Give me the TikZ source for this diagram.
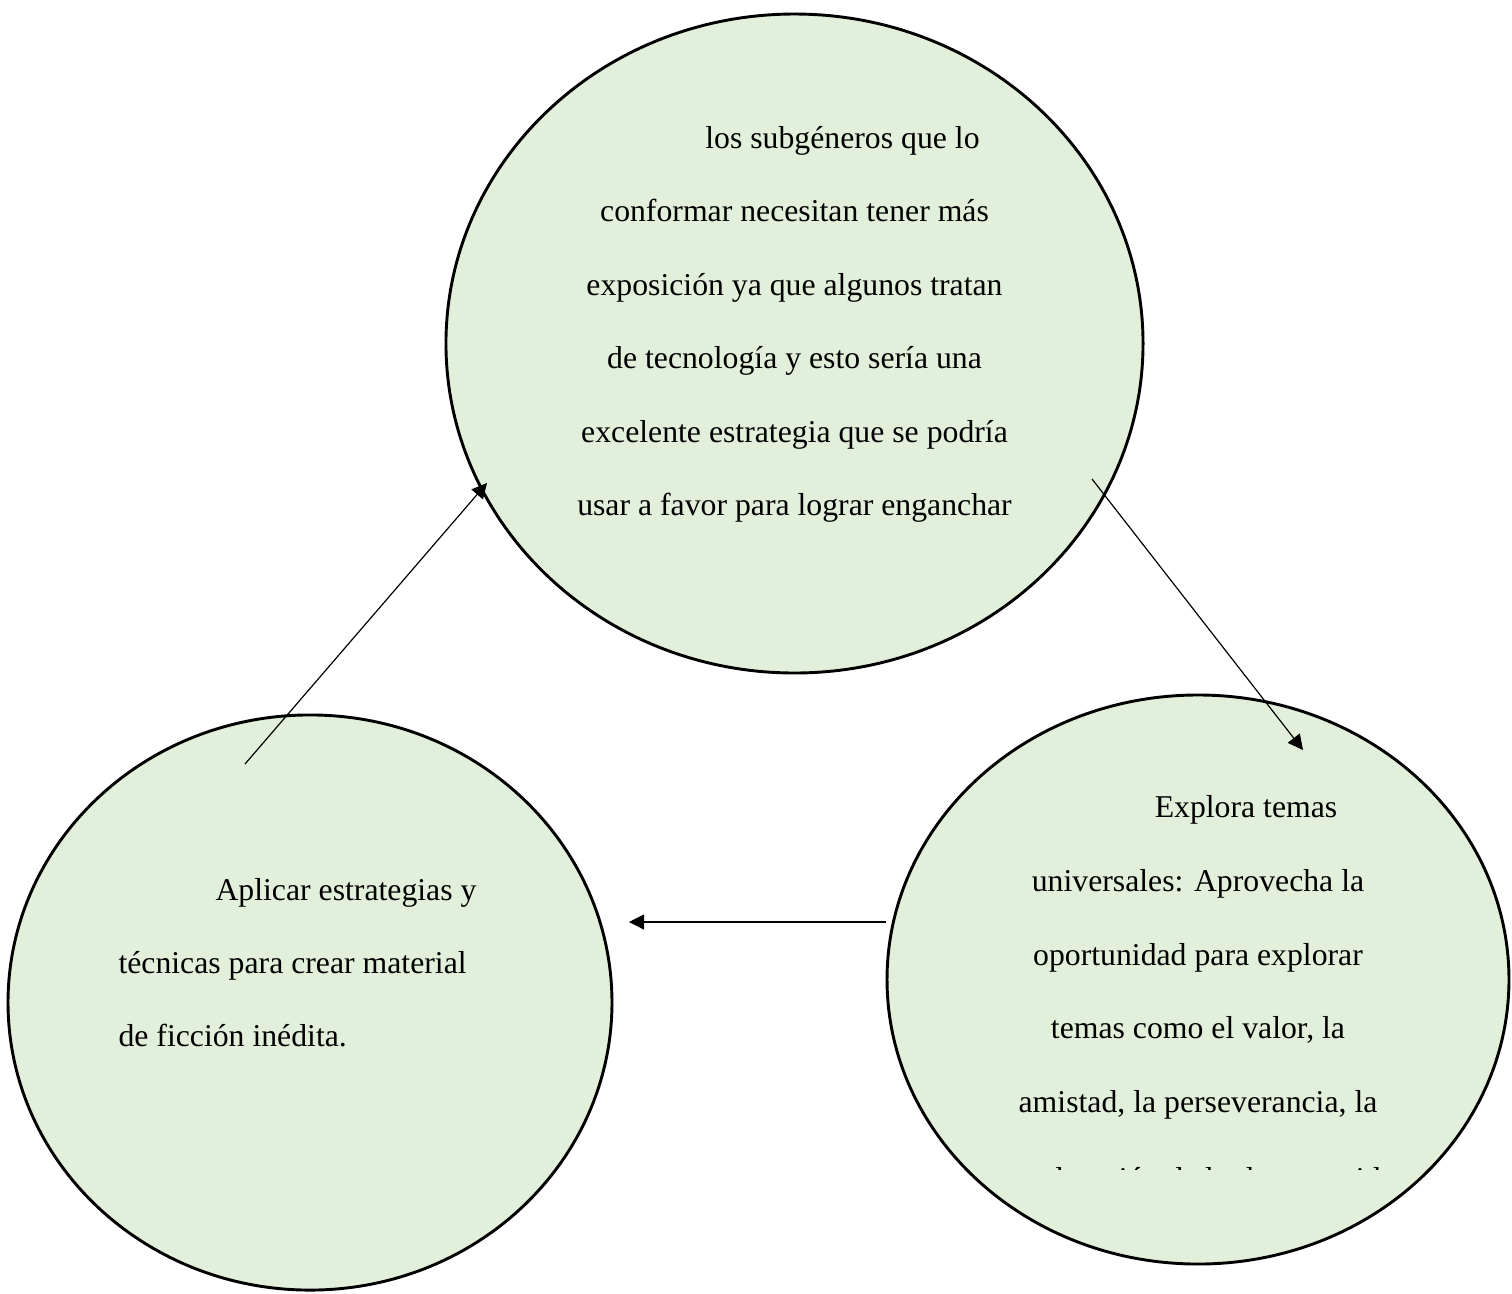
\documentclass[tikz,border=0pt]{standalone}
\usepackage{fontspec}
\setmainfont{Liberation Serif}
\usetikzlibrary{shapes.geometric,arrows.meta}
\definecolor{verdeclaro}{HTML}{E2EFDA}

\begin{document}
\begin{tikzpicture}[x=0.378pt,y=-0.378pt]
	\tikzstyle{invisible} = [outer sep=0,inner sep=0,minimum size=0]
	\tikzstyle{burbuja} = [ellipse, draw, line width=1.1pt, fill=verdeclaro, inner sep=0]
	\tikzstyle{flecha} = [-{Triangle[length=5.7pt,width=5.7pt]}, line width=0.45pt]
	\tikzstyle{linea} = [inner sep=0, anchor=base, font=\fontsize{12}{14}\selectfont]
	\useasboundingbox (0,0) rectangle (1512,1293);
	
	% las tres burbujas
	\node [burbuja, minimum width=263.5pt, minimum height=249.1pt] (sup) at (794.5,343.5) {};
	\node [burbuja, minimum width=228.3pt, minimum height=217.4pt] (izq) at (310,1002.5) {};
	\node [burbuja, minimum width=235.1pt, minimum height=215.1pt] (der) at (1198,979.5) {};
	
	% texto de arriba
	\node [linea] (s1) at (842.5,148) {los subgéneros que lo};
	\node [linea] (s2) at (794.5,221) {conformar necesitan tener más};
	\node [linea] (s3) at (794.5,295) {exposición ya que algunos tratan};
	\node [linea] (s4) at (794.5,368) {de tecnología y esto sería una};
	\node [linea] (s5) at (794.5,442) {excelente estrategia que se podría};
	\node [linea] (s6) at (794.5,515) {usar a favor para lograr enganchar};
	
	% texto de la izquierda
	\node [linea, anchor=base west] (i1) at (215,900) {Aplicar estrategias y};
	\node [linea, anchor=base west] (i2) at (118,973) {técnicas para crear material};
	\node [linea, anchor=base west] (i3) at (118,1046) {de ficción inédita.};
	
	% texto de la derecha
	\node [linea] (d1) at (1246,817) {Explora temas};
	\node [linea] (d2) at (1198,891) {universales: Aprovecha la};
	\node [linea] (d3) at (1198,965) {oportunidad para explorar};
	\node [linea] (d4) at (1198,1038) {temas como el valor, la};
	\node [linea] (d5) at (1198,1112) {amistad, la perseverancia, la};
	\begin{scope}
		\clip (900,1100) rectangle (1500,1169);
		\node [linea] (d6) at (1203,1189) {exploración de lo desconocido};
	\end{scope}
	
	% flechas
	\node [invisible] (v1) at (245,764) {};
	\node [invisible] (v2) at (487,483) {};
	\node [invisible] (v3) at (1092,479) {};
	\node [invisible] (v4) at (1303,750) {};
	\node [invisible] (v5) at (886,922) {};
	\node [invisible] (v6) at (629,922) {};
	\draw [flecha] (v1) -- (v2);
	\draw [flecha] (v3) -- (v4);
	\draw [flecha] (v5) -- (v6);
\end{tikzpicture}
\end{document}
